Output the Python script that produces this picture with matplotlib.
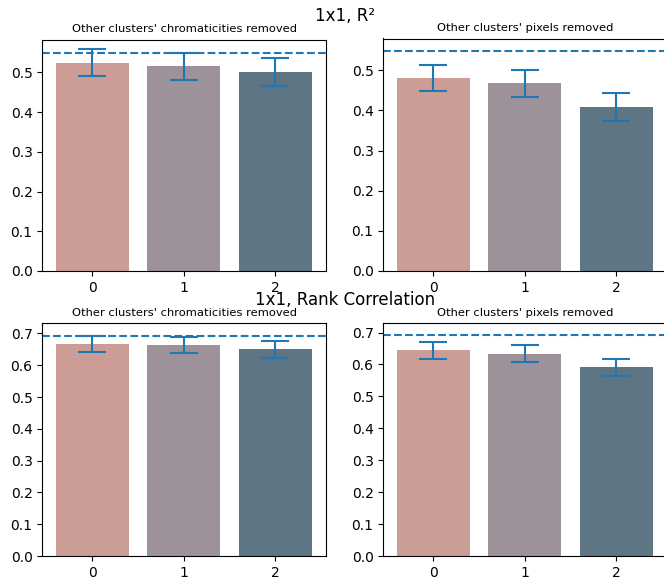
import matplotlib
matplotlib.use("Agg")
import matplotlib.pyplot as plt
import numpy as np

categories = ["0", "1", "2"]
colors = ["#cc9c97", "#9d9299", "#5e7584"]

r2_chroma = [0.525, 0.516, 0.502]
r2_chroma_err = [0.033, 0.034, 0.035]
r2_pixels = [0.480, 0.467, 0.409]
r2_pixels_err = [0.032, 0.033, 0.035]
r2_baseline = 0.549

rank_chroma = [0.668, 0.665, 0.650]
rank_chroma_err = [0.025, 0.025, 0.026]
rank_pixels = [0.644, 0.634, 0.591]
rank_pixels_err = [0.026, 0.026, 0.027]
rank_baseline = 0.692

W, H = 664, 581
fig = plt.figure(figsize=(W / 100, H / 100), dpi=100)


def make_ax(x0, y_top, x1, y_bot):
    return fig.add_axes([x0 / W, 1 - y_bot / H, (x1 - x0) / W, (y_bot - y_top) / H])


panels = [
    (make_ax(42.3, 39.5, 326, 271), r2_chroma, r2_chroma_err, r2_baseline,
     "Other clusters' chromaticities removed", 0.583),
    (make_ax(383.3, 38.5, 667, 271), r2_pixels, r2_pixels_err, r2_baseline,
     "Other clusters' pixels removed", 0.579),
    (make_ax(42.3, 323.3, 326, 556), rank_chroma, rank_chroma_err, rank_baseline,
     "Other clusters' chromaticities removed", 0.732),
    (make_ax(383.3, 323.3, 667, 556), rank_pixels, rank_pixels_err, rank_baseline,
     "Other clusters' pixels removed", 0.729),
]

for ax, vals, errs, base, title, ytop in panels:
    x = np.arange(len(categories))
    ax.bar(x, vals, width=0.8, color=colors)
    ax.errorbar(x, vals, yerr=errs, fmt="none", ecolor="#1f77b4", capsize=10,
                elinewidth=1.5, capthick=1.5)
    ax.axhline(base, color="#1f77b4", linestyle="--", linewidth=1.5)
    ax.set_xticks(x)
    ax.set_xticklabels(categories)
    ax.set_xlim(-0.547, 2.557)
    ax.set_ylim(0, ytop)
    ax.set_title(title, fontsize=8.25, pad=5.5)

fig.text(345 / W, 1 - 16 / H, "1x1, R²", ha="center", va="center", fontsize=12)
fig.text(345 / W, 1 - 300 / H, "1x1, Rank Correlation", ha="center", va="center", fontsize=12)

fig.savefig("out.png", dpi=100)
